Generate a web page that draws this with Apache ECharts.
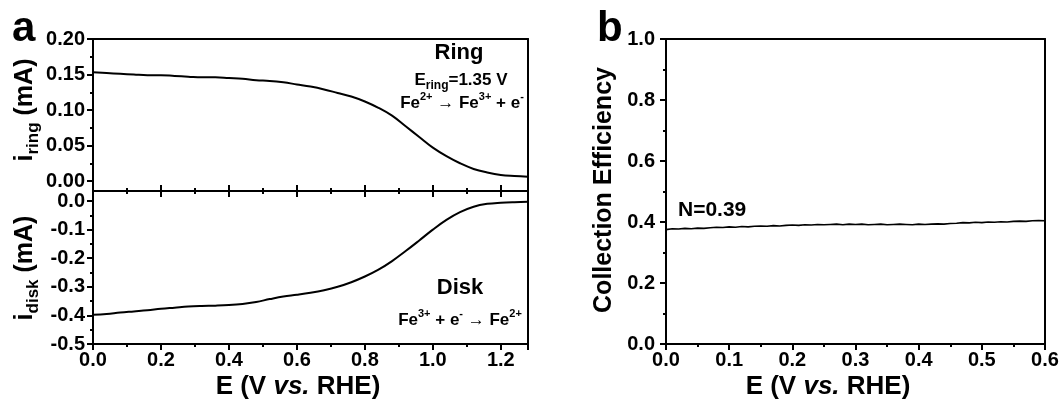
<!DOCTYPE html>
<html>
<head>
<meta charset="utf-8">
<script src="https://cdn.jsdelivr.net/npm/echarts@6/dist/echarts.min.js"></script>
<style>
html,body{margin:0;padding:0;background:#fff;}
#chart{width:1062px;height:406px;}
</style>
</head>
<body>
<div id="chart"></div>
<script>
// ---------------- DATA ----------------
const potentialA = [0.00,0.04,0.08,0.12,0.16,0.20,0.24,0.28,0.32,0.36,0.40,0.44,0.48,0.52,0.56,0.60,0.64,0.68,0.72,0.76,0.80,0.84,0.88,0.92,0.96,1.00,1.04,1.08,1.12,1.16,1.20,1.24,1.28];
const ringCurrent = [0.153,0.152,0.151,0.150,0.149,0.149,0.148,0.147,0.146,0.146,0.145,0.144,0.142,0.141,0.139,0.136,0.133,0.129,0.124,0.119,0.112,0.103,0.092,0.077,0.062,0.047,0.035,0.025,0.017,0.012,0.0085,0.007,0.006];
const diskCurrent = [-0.398,-0.395,-0.390,-0.386,-0.382,-0.377,-0.373,-0.369,-0.367,-0.366,-0.364,-0.360,-0.353,-0.343,-0.334,-0.328,-0.321,-0.312,-0.300,-0.284,-0.264,-0.240,-0.210,-0.175,-0.138,-0.100,-0.066,-0.039,-0.020,-0.010,-0.006,-0.004,-0.003];
const potentialB = [0.00,0.01,0.02,0.03,0.04,0.05,0.06,0.07,0.08,0.09,0.10,0.11,0.12,0.13,0.14,0.15,0.16,0.17,0.18,0.19,0.20,0.21,0.22,0.23,0.24,0.25,0.26,0.27,0.28,0.29,0.30,0.31,0.32,0.33,0.34,0.35,0.36,0.37,0.38,0.39,0.40,0.41,0.42,0.43,0.44,0.45,0.46,0.47,0.48,0.49,0.50,0.51,0.52,0.53,0.54,0.55,0.56,0.57,0.58,0.59,0.60];
const collectionEff = [0.375,0.378,0.377,0.379,0.378,0.380,0.379,0.381,0.383,0.382,0.384,0.383,0.385,0.384,0.386,0.387,0.386,0.388,0.387,0.389,0.390,0.389,0.391,0.390,0.392,0.391,0.392,0.393,0.391,0.393,0.392,0.393,0.391,0.392,0.393,0.391,0.392,0.393,0.392,0.391,0.393,0.392,0.393,0.394,0.393,0.395,0.396,0.398,0.397,0.399,0.398,0.400,0.399,0.401,0.400,0.402,0.403,0.402,0.404,0.405,0.404];
const xTicksA = {min:0, max:1.28, interval:0.2};
const yTicksRing = {min:0, max:0.2, interval:0.05};
const yTicksDisk = {min:-0.5, max:0, interval:0.1};
const xTicksB = {min:0, max:0.6, interval:0.1};
const yTicksB = {min:0, max:1, interval:0.2};

// ---------------- STYLE ----------------
const FONT = "'Liberation Sans', Arial, sans-serif";
const BLACK = '#000';
const lineSt = {show:true, onZero:false, lineStyle:{color:BLACK, width:2}};
const tickSt = {show:true, length:6, inside:false, lineStyle:{color:BLACK, width:2}};
const minorSt = {show:true, splitNumber:2, length:3, lineStyle:{color:BLACK, width:2}};
const lblSt = (fmt, margin) => ({show:true, color:BLACK, fontFamily:FONT, fontWeight:'bold', fontSize:20, margin:margin, formatter:fmt});
const onGrid = (v, step) => Math.abs(Math.round(v/step)*step - v) < 1e-6;

function borderAxis(gridIndex, position){
  return {type:'value', gridIndex, position, min:0, max:1, axisLine:lineSt,
    axisTick:{show:false}, axisLabel:{show:false}, splitLine:{show:false}};
}
function tickAxis(gridIndex, position, t, labels){
  return {type:'value', gridIndex, position, min:t.min, max:t.max, interval:t.interval,
    axisLine:lineSt, axisTick:tickSt, minorTick:minorSt,
    axisLabel: labels ? labels : {show:false},
    splitLine:{show:false}, minorSplitLine:{show:false}};
}

const gridA = {left:93, right:534};
const option = {
  animation:false,
  backgroundColor:'#fff',
  grid:[
    {left:gridA.left, right:gridA.right, top:39, height:142},
    {left:gridA.left, right:gridA.right, top:181, height:10},
    {left:gridA.left, right:gridA.right, top:191, height:10},
    {left:gridA.left, right:gridA.right, top:201, bottom:62},
    {left:666, right:17, top:39, bottom:62}
  ],
  xAxis:[
    Object.assign(borderAxis(0,'top'), {min:xTicksA.min, max:xTicksA.max}),
    tickAxis(1,'bottom',xTicksA,null),
    tickAxis(2,'top',xTicksA,null),
    tickAxis(3,'bottom',xTicksA,lblSt(v => onGrid(v,xTicksA.interval) ? v.toFixed(1) : '', 6)),
    tickAxis(4,'bottom',xTicksB,lblSt(v => onGrid(v,xTicksB.interval) ? v.toFixed(1) : '', 6)),
    borderAxis(4,'top')
  ],
  yAxis:[
    tickAxis(0,'left',yTicksRing,lblSt(v => v.toFixed(2), 8)),
    borderAxis(0,'right'),
    borderAxis(1,'left'), borderAxis(1,'right'),
    borderAxis(2,'left'), borderAxis(2,'right'),
    tickAxis(3,'left',yTicksDisk,lblSt(v => v.toFixed(1), 8)),
    borderAxis(3,'right'),
    tickAxis(4,'left',yTicksB,lblSt(v => v.toFixed(1), 11)),
    borderAxis(4,'right')
  ],
  series:[
    {type:'line', xAxisIndex:0, yAxisIndex:0, showSymbol:false, smooth:0.4,
      lineStyle:{color:BLACK, width:2}, data: potentialA.map((e,i)=>[e, ringCurrent[i]])},
    {type:'line', xAxisIndex:3, yAxisIndex:6, showSymbol:false, smooth:0.4,
      lineStyle:{color:BLACK, width:2}, data: potentialA.map((e,i)=>[e, diskCurrent[i]])},
    {type:'line', xAxisIndex:4, yAxisIndex:8, showSymbol:false,
      lineStyle:{color:BLACK, width:1.6}, data: potentialB.map((e,i)=>[e, collectionEff[i]])}
  ],
  graphic:[]
};

const m = (size, extra) => Object.assign({fontFamily:FONT, fontWeight:'bold', fontSize:size, fill:BLACK}, extra||{});
function txt(x, y, text, rich, align, rot){
  return {type:'text', x, y, rotation: rot||0, silent:true,
    style:{text, rich, align: align||'center', verticalAlign:'middle', fill:BLACK, fontFamily:FONT, fontWeight:'bold'}};
}
option.graphic = [
  txt(12, 29, '{a|a}', {a:m(42)}, 'left'),
  txt(597, 29, '{a|b}', {a:m(42)}, 'left'),
  // y titles
  txt(25, 110, '{m|i}{s|ring}{m| (mA)}', {m:m(25,{lineHeight:34}), s:m(17,{lineHeight:17, verticalAlign:'bottom'})}, 'center', Math.PI/2),
  txt(25, 268, '{m|i}{s|disk}{m| (mA)}', {m:m(25,{lineHeight:34}), s:m(17,{lineHeight:17, verticalAlign:'bottom'})}, 'center', Math.PI/2),
  txt(604, 190, '{m|Collection Efficiency}', {m:m(25)}, 'center', Math.PI/2),
  // x titles
  txt(298, 387, '{m|E (V }{i|vs.}{m| RHE)}', {m:m(26), i:m(26,{fontStyle:'italic'})}),
  txt(828, 387, '{m|E (V }{i|vs.}{m| RHE)}', {m:m(26), i:m(26,{fontStyle:'italic'})}),
  // annotations panel a
  txt(459, 53, '{m|Ring}', {m:m(22)}),
  txt(461, 80, '{m|E}{s|ring}{m|=1.35 V}', {m:m(17,{lineHeight:24}), s:m(12,{lineHeight:12, verticalAlign:'bottom'})}),
  txt(462, 103, '{m|Fe}{p|2+}{a| → }{m|Fe}{p|3+}{m| + e}{p|-}', {m:m(17,{lineHeight:24}), p:m(11,{lineHeight:11, verticalAlign:'top'}), a:m(17,{fontWeight:'normal', lineHeight:24})}),
  txt(460, 288, '{m|Disk}', {m:m(22)}),
  txt(460, 320, '{m|Fe}{p|3+}{m| + e}{p|-}{a| → }{m|Fe}{p|2+}', {m:m(17,{lineHeight:24}), p:m(11,{lineHeight:11, verticalAlign:'top'}), a:m(17,{fontWeight:'normal', lineHeight:24})}),
  // annotation panel b
  txt(678, 210, '{m|N=0.39}', {m:m(21)}, 'left')
];

const chart = echarts.init(document.getElementById('chart'), null, {renderer:'canvas'});
chart.setOption(option);
</script>
</body>
</html>
